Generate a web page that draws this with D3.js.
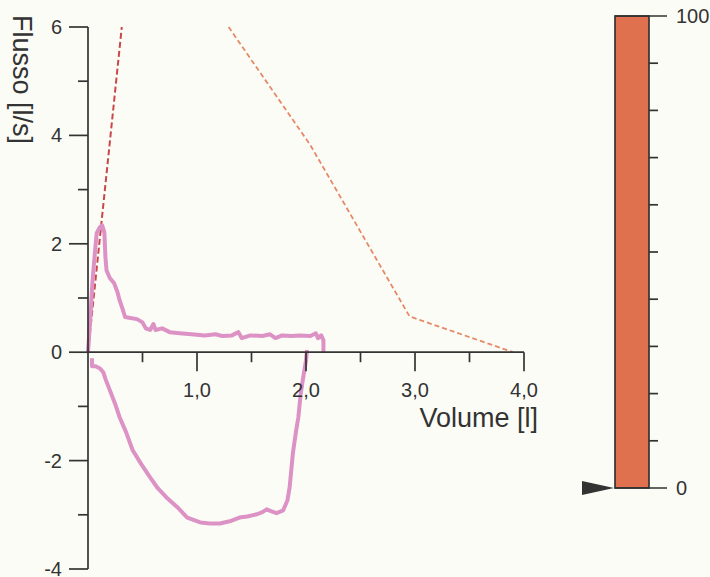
<!DOCTYPE html>
<html>
	<head>
		<meta charset="utf-8">
		<script src="https://cdn.jsdelivr.net/npm/d3@7"></script>
		<style>
			body { margin: 0; background: #fcfcf6; }
			text { font-family: "Liberation Sans", Arial, sans-serif; fill: #333; }
		</style>
	</head>
	<body>
		<script type="text/javascript">
			// Expiratory part of the loop (volume l, flow l/s)
			var expVolume = [0, 0.02, 0.04, 0.065, 0.08, 0.11, 0.13, 0.15, 0.16, 0.17, 0.2, 0.24, 0.27, 0.29, 0.32, 0.34, 0.39, 0.45, 0.5, 0.53, 0.57, 0.6, 0.62, 0.68, 0.75, 0.84, 0.95, 1.07, 1.17, 1.23, 1.32, 1.38, 1.41, 1.49, 1.6, 1.67, 1.72, 1.78, 1.87, 1.94, 2.04, 2.09, 2.11, 2.14, 2.16, 2.16];
			var expFlow = [0, 0.59, 1.27, 1.88, 2.2, 2.31, 2.34, 2.21, 1.75, 1.51, 1.37, 1.27, 1.11, 0.96, 0.78, 0.65, 0.63, 0.61, 0.55, 0.44, 0.41, 0.52, 0.41, 0.44, 0.37, 0.35, 0.33, 0.31, 0.33, 0.3, 0.31, 0.37, 0.26, 0.31, 0.3, 0.33, 0.26, 0.31, 0.3, 0.31, 0.3, 0.35, 0.26, 0.31, 0.22, 0];

			// Inspiratory part of the loop
			var inspVolume = [0.037, 0.037, 0.07, 0.11, 0.14, 0.165, 0.2, 0.25, 0.29, 0.35, 0.41, 0.49, 0.57, 0.64, 0.72, 0.82, 0.91, 1.03, 1.12, 1.21, 1.3, 1.39, 1.46, 1.55, 1.6, 1.64, 1.69, 1.73, 1.79, 1.83, 1.85, 1.88, 1.91, 1.93, 1.95, 1.97, 2.0, 2.01];
			var inspFlow = [-0.11, -0.26, -0.26, -0.3, -0.37, -0.52, -0.7, -0.96, -1.2, -1.48, -1.81, -2.07, -2.31, -2.51, -2.68, -2.86, -3.05, -3.14, -3.16, -3.16, -3.12, -3.05, -3.03, -2.99, -2.95, -2.9, -2.94, -2.97, -2.92, -2.73, -2.49, -1.86, -1.44, -1.2, -0.79, -0.52, -0.15, 0.04];

			// Dashed reference lines
			var refAVolume = [0, 0.31];
			var refAFlow = [0, 6];
			var refBVolume = [1.29, 2.04, 2.95, 3.9];
			var refBFlow = [6, 3.82, 0.66, 0];

			// Axis ticks
			var xMajor = [1, 2, 3, 4];
			var xMinor = [0.5, 1.5, 2.5, 3.5];
			var yMajor = [6, 4, 2, 0, -2, -4];
			var yMinor = [5, 3, 1, -1, -3];

			// Side bar gauge
			var barValue = 100;
			var barMarker = 0;
			var barTicks = [10, 20, 30, 40, 50, 60, 70, 80, 90];
			var barEnds = [0, 100];

			var width = 710, height = 577;
			var svg = d3.select("body").append("svg")
				.attr("width", width)
				.attr("height", height);

			var x = d3.scaleLinear().domain([0, 4]).range([88, 524]);
			var y = d3.scaleLinear().domain([-4, 6]).range([569, 27]);
			var fmt = function (d) { return d3.format(".1f")(d).replace(".", ","); };

			var line = d3.line()
				.x(function (d) { return x(d[0]); })
				.y(function (d) { return y(d[1]); });

			// Dashed lines
			svg.append("path")
				.datum(d3.zip(refAVolume, refAFlow))
				.attr("d", line)
				.attr("fill", "none")
				.attr("stroke", "#c9474a")
				.attr("stroke-width", 2)
				.attr("stroke-dasharray", "6,3");
			svg.append("path")
				.datum(d3.zip(refBVolume, refBFlow))
				.attr("d", line)
				.attr("fill", "none")
				.attr("stroke", "#e58a68")
				.attr("stroke-width", 1.8)
				.attr("stroke-dasharray", "5,3");

			// Flow-volume loop
			[d3.zip(expVolume, expFlow), d3.zip(inspVolume, inspFlow)].forEach(function (pts) {
				svg.append("path")
					.datum(pts)
					.attr("d", line)
					.attr("fill", "none")
					.attr("stroke", "#dc92c5")
					.attr("stroke-width", 4)
					.attr("stroke-linejoin", "round");
			});

			// Axes
			var axis = svg.append("g").attr("stroke", "#333").attr("stroke-width", 1.7);
			axis.append("line").attr("x1", x(0)).attr("x2", x(0)).attr("y1", y(6)).attr("y2", y(-4));
			axis.append("line").attr("x1", x(0)).attr("x2", x(4)).attr("y1", y(0)).attr("y2", y(0));
			axis.selectAll(".ymaj").data(yMajor).enter().append("line")
				.attr("x1", x(0) - 19).attr("x2", x(0))
				.attr("y1", function (d) { return y(d); }).attr("y2", function (d) { return y(d); });
			axis.selectAll(".ymin").data(yMinor).enter().append("line")
				.attr("x1", x(0) - 10).attr("x2", x(0))
				.attr("y1", function (d) { return y(d); }).attr("y2", function (d) { return y(d); });
			axis.selectAll(".xmaj").data(xMajor).enter().append("line")
				.attr("x1", function (d) { return x(d); }).attr("x2", function (d) { return x(d); })
				.attr("y1", y(0)).attr("y2", y(0) + 19);
			axis.selectAll(".xmin").data(xMinor).enter().append("line")
				.attr("x1", function (d) { return x(d); }).attr("x2", function (d) { return x(d); })
				.attr("y1", y(0)).attr("y2", y(0) + 10);

			svg.selectAll(".ylab").data(yMajor).enter().append("text")
				.attr("x", x(0) - 26)
				.attr("y", function (d) { return y(d) + 7; })
				.attr("text-anchor", "end")
				.style("font-size", "20px")
				.text(function (d) { return d; });
			svg.selectAll(".xlab").data(xMajor).enter().append("text")
				.attr("x", function (d) { return x(d); })
				.attr("y", y(0) + 45)
				.attr("text-anchor", "middle")
				.style("font-size", "20px")
				.text(fmt);

			svg.append("text")
				.attr("x", 538).attr("y", 427)
				.attr("text-anchor", "end")
				.style("font-size", "27px")
				.text("Volume [l]");
			svg.append("text")
				.attr("transform", "translate(13,15) rotate(90)")
				.style("font-size", "27px")
				.text("Flusso [l/s]");

			// Side gauge
			var g = d3.scaleLinear().domain([0, 100]).range([488, 16]);
			svg.append("rect")
				.attr("x", 615).attr("width", 34)
				.attr("y", g(barValue)).attr("height", g(0) - g(barValue))
				.attr("fill", "#e0714e")
				.attr("stroke", "#333")
				.attr("stroke-width", 1.7);
			svg.selectAll(".gend").data(barEnds).enter().append("line")
				.attr("x1", 615).attr("x2", 667)
				.attr("y1", function (d) { return g(d); }).attr("y2", function (d) { return g(d); })
				.attr("stroke", "#333").attr("stroke-width", 1.7);
			svg.selectAll(".gtick").data(barTicks).enter().append("line")
				.attr("x1", 649).attr("x2", 658)
				.attr("y1", function (d) { return g(d); }).attr("y2", function (d) { return g(d); })
				.attr("stroke", "#333").attr("stroke-width", 1.7);
			svg.selectAll(".glab").data(barEnds).enter().append("text")
				.attr("x", 676)
				.attr("y", function (d) { return g(d) + 7; })
				.style("font-size", "20px")
				.text(function (d) { return d; });
			svg.append("path")
				.attr("d", "M582," + (g(barMarker) - 7) + "L614," + g(barMarker) + "L582," + (g(barMarker) + 7) + "Z")
				.attr("fill", "#333");
		</script>
	</body>
</html>
